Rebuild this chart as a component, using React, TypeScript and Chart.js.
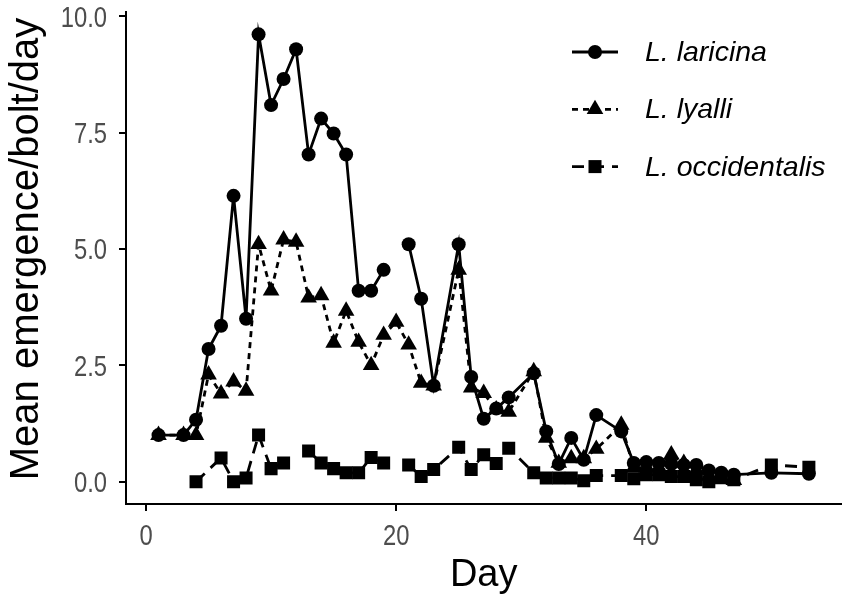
import React, { useEffect, useRef } from 'react';
import { Chart, registerables } from 'chart.js';

Chart.register(...registerables);

// Mean emergence per bolt per day (null = missing day, line breaks)
const laricinaDays = [1, 3, 4, 5, 6, 7, 8, 9, 10, 11, 12, 13, 14, 15, 16, 17, 18, 19, 20, 21, 22, 23, 25, 26, 27, 28, 29, 31, 32, 33, 34, 35, 36, 38, 39, 40, 41, 42, 43, 44, 45, 46, 47, 50, 53];
const laricinaValues = [1.0, 1.0, 1.33, 2.85, 3.35, 6.14, 3.5, 9.61, 8.09, 8.65, 9.29, 7.03, 7.8, 7.48, 7.03, 4.1, 4.1, 4.55, null, 5.1, 3.93, 2.06, 5.1, 2.25, 1.35, 1.57, 1.81, 2.33, 1.08, 0.38, 0.94, 0.47, 1.43, 1.08, 0.4, 0.42, 0.4, 0.38, 0.36, 0.36, 0.24, 0.19, 0.15, 0.19, 0.17];

const lyalliDays = [1, 3, 4, 5, 6, 7, 8, 9, 10, 11, 12, 13, 14, 15, 16, 17, 18, 19, 20, 21, 22, 23, 25, 26, 27, 28, 29, 31, 32, 33, 34, 35, 36, 38, 39, 40, 41, 42, 43, 44, 45, 46, 47];
const lyalliValues = [1.0, 1.0, 1.0, 2.3, 1.89, 2.15, 1.95, 5.1, 4.1, 5.2, 5.15, 3.95, 4.0, 2.98, 3.67, 3.0, 2.5, 3.15, 3.43, 2.94, 2.12, 2.06, 4.55, 2.02, 1.9, 1.55, 1.5, 2.37, 0.94, 0.4, 0.5, 0.5, 0.7, 1.22, 0.3, 0.3, 0.3, 0.58, 0.4, 0.25, 0.12, 0.05, 0.03];

const occidentalisDays = [4, 6, 7, 8, 9, 10, 11, 12, 13, 14, 15, 16, 17, 18, 19, 20, 21, 22, 23, 25, 26, 27, 28, 29, 31, 32, 33, 34, 35, 36, 38, 39, 40, 41, 42, 43, 44, 45, 46, 47, 50, 53];
const occidentalisValues = [0.0, 0.51, 0.0, 0.08, 1.0, 0.28, 0.4, null, 0.66, 0.4, 0.28, 0.19, 0.19, 0.52, 0.4, null, 0.36, 0.11, 0.26, 0.74, 0.26, 0.58, 0.39, 0.72, 0.19, 0.08, 0.08, 0.08, 0.02, 0.13, 0.13, 0.06, 0.15, 0.15, 0.11, 0.11, 0.04, 0.0, 0.11, 0.04, 0.36, 0.31];

const xTicks = [0, 20, 40];
const yTicks = [0, 2.5, 5, 7.5, 10];
const yTitle = 'Mean emergence/bolt/day';

const FONT = '"Liberation Sans", Arial, Helvetica, sans-serif';
const TICK_COLOR = '#4d4d4d';

type Shape = 'circle' | 'triangle' | 'rect';

const series: { label: string; days: number[]; values: (number | null)[]; dash: number[]; shape: Shape; radius: number }[] = [
  { label: 'L. laricina', days: laricinaDays, values: laricinaValues, dash: [], shape: 'circle', radius: 7 },
  { label: 'L. lyalli', days: lyalliDays, values: lyalliValues, dash: [6, 5], shape: 'triangle', radius: 9.6 },
  { label: 'L. occidentalis', days: occidentalisDays, values: occidentalisValues, dash: [12, 8], shape: 'rect', radius: 9.2 },
];

function toPoints(days: number[], values: (number | null)[]) {
  return days.map((d, i) => ({ x: d, y: values[i] }));
}

function drawMarker(ctx: CanvasRenderingContext2D, shape: Shape, x: number, y: number, r: number) {
  ctx.beginPath();
  if (shape === 'circle') {
    ctx.arc(x, y, r, 0, Math.PI * 2);
  } else if (shape === 'triangle') {
    for (let k = 0; k < 3; k++) {
      const a = (k * 2 * Math.PI) / 3;
      const px = x + Math.sin(a) * r;
      const py = y - Math.cos(a) * r;
      if (k === 0) ctx.moveTo(px, py);
      else ctx.lineTo(px, py);
    }
    ctx.closePath();
  } else {
    const h = r * Math.SQRT1_2;
    ctx.rect(x - h, y - h, 2 * h, 2 * h);
  }
  ctx.fill();
}

// legend sits inside the panel, top right, like the ggplot original
const legendPlugin = {
  id: 'insetLegend',
  afterDraw(chart: Chart) {
    const ctx = chart.ctx;
    ctx.save();
    series.forEach((s, i) => {
      const y = 52 + i * 57.3;
      ctx.strokeStyle = '#000';
      ctx.fillStyle = '#000';
      ctx.lineWidth = 2.8;
      ctx.setLineDash(s.dash);
      ctx.beginPath();
      ctx.moveTo(572, y);
      ctx.lineTo(618, y);
      ctx.stroke();
      ctx.setLineDash([]);
      drawMarker(ctx, s.shape, 595, y, s.radius);
      ctx.font = `italic 28.5px ${FONT}`;
      ctx.textAlign = 'left';
      ctx.textBaseline = 'middle';
      ctx.fillText(s.label, 645, y + 1);
    });
    ctx.restore();
  },
};

// y title drawn by hand so it can sit a little above the panel centre
const yTitlePlugin = {
  id: 'yTitle',
  afterDraw(chart: Chart) {
    const ctx = chart.ctx;
    ctx.save();
    ctx.translate(27, 249);
    ctx.rotate(-Math.PI / 2);
    ctx.font = `40px ${FONT}`;
    ctx.fillStyle = '#000';
    ctx.textAlign = 'center';
    ctx.textBaseline = 'middle';
    ctx.fillText(yTitle, 0, 0);
    ctx.restore();
  },
};

// the original's tick labels use a condensed face; squeeze them horizontally
function narrowText(ctx: CanvasRenderingContext2D, text: string, x: number, y: number, align: CanvasTextAlign) {
  ctx.save();
  ctx.translate(x, y);
  ctx.scale(0.82, 1);
  ctx.textAlign = align;
  ctx.fillText(text, 0, 0);
  ctx.restore();
}

const tickLabelPlugin = {
  id: 'narrowTicks',
  afterDraw(chart: Chart) {
    const ctx = chart.ctx;
    const xs: any = chart.scales.x;
    const ys: any = chart.scales.y;
    ctx.save();
    ctx.font = `29px ${FONT}`;
    ctx.fillStyle = TICK_COLOR;
    ctx.textBaseline = 'alphabetic';
    xs.ticks.forEach((t: any) => {
      narrowText(ctx, String(t.value), xs.getPixelForValue(t.value), ys.bottom + 41, 'center');
    });
    ys.ticks.forEach((t: any) => {
      narrowText(ctx, Number(t.value).toFixed(1), ys.right - 19, ys.getPixelForValue(t.value) + 10.4, 'right');
    });
    ctx.restore();
  },
};

export default function App() {
  const ref = useRef<HTMLCanvasElement>(null);

  useEffect(() => {
    const lineSets = series.map((s) => ({
      label: s.label,
      data: toPoints(s.days, s.values),
      borderColor: '#000',
      borderWidth: 2.8,
      borderDash: s.dash,
      pointRadius: 0,
      spanGaps: false,
      fill: false,
      order: 2,
    }));
    const pointSets = series.map((s) => ({
      label: s.label + ' points',
      data: toPoints(s.days, s.values),
      showLine: false,
      pointStyle: s.shape,
      pointRadius: s.radius,
      pointBackgroundColor: '#000',
      pointBorderWidth: 0,
      order: 1,
    }));

    const chart = new Chart(ref.current!, {
      type: 'line',
      data: { datasets: [...lineSets, ...pointSets] as any },
      options: {
        animation: false,
        responsive: false,
        layout: { padding: { left: 0, top: 12, right: 8, bottom: 0 } },
        plugins: { legend: { display: false }, tooltip: { enabled: false } },
        scales: {
          x: {
            type: 'linear',
            min: -1.6,
            max: 55.6,
            afterBuildTicks: (scale: any) => {
              scale.ticks = xTicks.map((v) => ({ value: v }));
            },
            afterFit: (scale: any) => {
              scale.height = 96;
            },
            ticks: { display: false },
            grid: { display: true, drawOnChartArea: false, drawTicks: true, tickLength: 7, color: '#000', lineWidth: 2 },
            border: { display: true, color: '#000', width: 2 },
            title: { display: true, text: 'Day', font: { family: FONT, size: 38 }, color: '#000', padding: { top: 0, bottom: 2 } },
          },
          y: {
            type: 'linear',
            min: -0.48,
            max: 10.09,
            afterBuildTicks: (scale: any) => {
              scale.ticks = yTicks.map((v) => ({ value: v }));
            },
            afterFit: (scale: any) => {
              scale.width = 126;
            },
            ticks: { display: false },
            grid: { display: true, drawOnChartArea: false, drawTicks: true, tickLength: 7, color: '#000', lineWidth: 2 },
            border: { display: true, color: '#000', width: 2 },
            title: { display: false },
          },
        },
      },
      plugins: [legendPlugin, yTitlePlugin, tickLabelPlugin],
    });

    return () => {
      chart.destroy();
    };
  }, []);

  return (
    <div style={{ position: 'absolute', left: 0, top: 0, width: 851, height: 600, background: '#fff' }}>
      <canvas ref={ref} width={851} height={600} style={{ display: 'block' }} />
    </div>
  );
}
